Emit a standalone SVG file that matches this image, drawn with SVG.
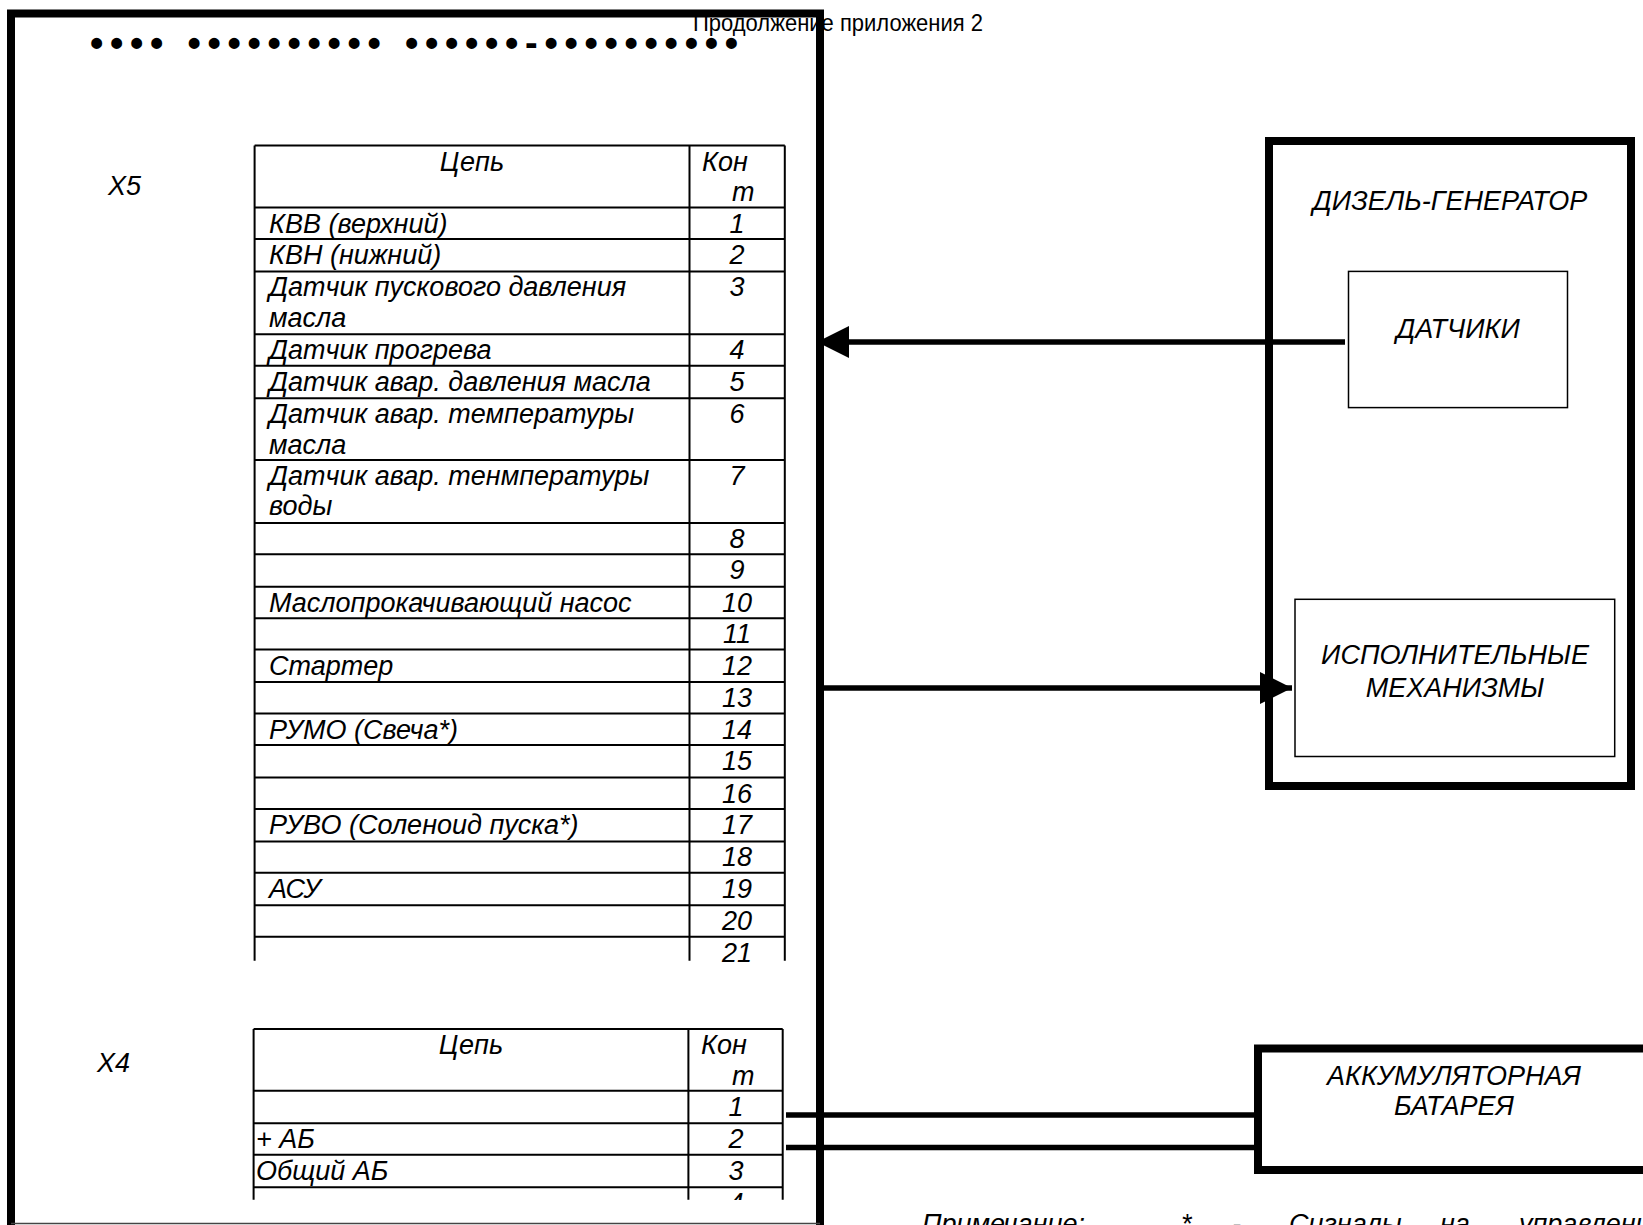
<svg xmlns="http://www.w3.org/2000/svg" width="1643" height="1225" viewBox="0 0 1643 1225">
<style>
.t{font-family:"Liberation Sans",Arial,sans-serif;font-style:italic;font-size:27px;fill:#000}
.c{text-anchor:middle}
.grid{stroke:#000;stroke-width:2;fill:none}
.thick{stroke:#000;stroke-width:8;fill:none}
.thin{stroke:#000;stroke-width:1.5;fill:#fff}
.wire{stroke:#000;stroke-width:5.5;fill:none}
</style>
<defs>
<marker id="ah" markerUnits="userSpaceOnUse" markerWidth="32" markerHeight="32" viewBox="0 0 30 30" refX="30" refY="15" orient="auto">
<path d="M0,0 L30,15 L0,30 Z" fill="#000"/>
</marker>
<clipPath id="x4clip"><rect x="0" y="0" width="1643" height="1200"/></clipPath>
</defs>
<rect width="1643" height="1225" fill="#fff"/>

<g id="header">
<text x="693" y="31" style="font-family:'Liberation Sans Narrow','Liberation Sans',Arial,sans-serif;font-size:24px" textLength="290" lengthAdjust="spacingAndGlyphs">Продолжение приложения 2</text>
</g>

<g id="control-block">
<path class="thick" d="M11,1225 V13.5 H820 V1225"/>
<line x1="11" y1="1223.5" x2="820" y2="1223.5" stroke="#444" stroke-width="1.5"/>
<text x="90" y="56" style="font-family:'Liberation Sans',Arial,sans-serif;font-weight:bold;font-size:38px" textLength="648" lengthAdjust="spacing">•••• •••••••••• ••••••-••••••••••</text>
</g>

<g id="table-x5">
<text class="t" x="108" y="195">X5</text>
<path class="grid" d="M254.6,145.6 V960.8 M689.5,145.6 V960.8 M784.8,145.6 V960.8
M254.6,145.6 H784.8 M254.6,207.5 H784.8 M254.6,238.9 H784.8 M254.6,271.4 H784.8 M254.6,334.3 H784.8
M254.6,365.7 H784.8 M254.6,398.2 H784.8 M254.6,460 H784.8 M254.6,522.9 H784.8 M254.6,554.3 H784.8
M254.6,586.8 H784.8 M254.6,618.2 H784.8 M254.6,649.6 H784.8 M254.6,682.1 H784.8 M254.6,713.5 H784.8
M254.6,745 H784.8 M254.6,777.5 H784.8 M254.6,808.9 H784.8 M254.6,841.4 H784.8 M254.6,872.8 H784.8
M254.6,905.3 H784.8 M254.6,936.7 H784.8"/>
<text class="t c" x="472" y="170.6">Цепь</text>
<text class="t" x="702" y="170.6">Кон</text>
<text class="t" x="732" y="201">т</text>
<text class="t" x="269" y="232.5">КВВ (верхний)</text>
<text class="t" x="269" y="263.9">КВН (нижний)</text>
<text class="t" x="269" y="296.4">Датчик пускового давления</text>
<text class="t" x="269" y="326.8">масла</text>
<text class="t" x="269" y="359.3">Датчик прогрева</text>
<text class="t" x="269" y="390.7">Датчик авар. давления масла</text>
<text class="t" x="269" y="423.2">Датчик авар. температуры</text>
<text class="t" x="269" y="453.6">масла</text>
<text class="t" x="269" y="485">Датчик авар. тенмпературы</text>
<text class="t" x="269" y="515.4">воды</text>
<text class="t" x="269" y="611.8">Маслопрокачивающий насос</text>
<text class="t" x="269" y="674.6">Стартер</text>
<text class="t" x="269" y="738.5">РУМО (Свеча*)</text>
<text class="t" x="269" y="833.9">РУВО (Соленоид пуска*)</text>
<text class="t" x="269" y="897.8">АСУ</text>
<g class="t c">
<text x="737" y="232.5">1</text>
<text x="737" y="263.9">2</text>
<text x="737" y="296.4">3</text>
<text x="737" y="359.3">4</text>
<text x="737" y="390.7">5</text>
<text x="737" y="423.2">6</text>
<text x="737" y="485">7</text>
<text x="737" y="547.9">8</text>
<text x="737" y="579.3">9</text>
<text x="737" y="611.8">10</text>
<text x="737" y="643.2">11</text>
<text x="737" y="674.6">12</text>
<text x="737" y="707.1">13</text>
<text x="737" y="738.5">14</text>
<text x="737" y="770">15</text>
<text x="737" y="802.5">16</text>
<text x="737" y="833.9">17</text>
<text x="737" y="866.4">18</text>
<text x="737" y="897.8">19</text>
<text x="737" y="930.3">20</text>
<text x="737" y="961.7">21</text>
</g>
</g>

<g id="table-x4">
<text class="t" x="97" y="1072">X4</text>
<path class="grid" d="M253.6,1029 V1199.7 M688.4,1029 V1199.7 M782.7,1029 V1199.7
M253.6,1029 H782.7 M253.6,1090.8 H782.7 M253.6,1123.2 H782.7 M253.6,1154.7 H782.7 M253.6,1187.2 H782.7"/>
<text class="t c" x="471" y="1054">Цепь</text>
<text class="t" x="701" y="1054">Кон</text>
<text class="t" x="732" y="1084.5">т</text>
<text class="t" x="256" y="1148">+ АБ</text>
<text class="t" x="256" y="1180">Общий АБ</text>
<g class="t c">
<text x="736" y="1116">1</text>
<text x="736" y="1148">2</text>
<text x="736" y="1180">3</text>
<text x="736" y="1212" clip-path="url(#x4clip)">4</text>
</g>
</g>

<g id="diesel-generator">
<rect class="thick" x="1269" y="141" width="362" height="645"/>
<text class="t c" x="1450" y="209.6">ДИЗЕЛЬ-ГЕНЕРАТОР</text>
</g>

<g id="sensors">
<rect class="thin" x="1348.5" y="271.4" width="219" height="136.2"/>
<text class="t c" x="1458" y="337.5">ДАТЧИКИ</text>
</g>

<g id="actuators">
<rect class="thin" x="1295" y="599.3" width="319.7" height="157.2"/>
<text class="t c" x="1455" y="664">ИСПОЛНИТЕЛЬНЫЕ</text>
<text class="t c" x="1455" y="697">МЕХАНИЗМЫ</text>
</g>

<g id="battery">
<rect class="thick" x="1258" y="1048.5" width="400" height="121.5"/>
<text class="t c" x="1454" y="1084.5">АККУМУЛЯТОРНАЯ</text>
<text class="t c" x="1454" y="1115">БАТАРЕЯ</text>
</g>

<g id="connectors">
<line class="wire" x1="1345" y1="342" x2="817" y2="342" marker-end="url(#ah)"/>
<line class="wire" x1="820" y1="688" x2="1292" y2="688" marker-end="url(#ah)"/>
<line class="wire" x1="786" y1="1115" x2="1256" y2="1115"/>
<line class="wire" x1="786" y1="1147.5" x2="1256" y2="1147.5"/>
</g>

<g id="note">
<text class="t" x="922" y="1233">Примечание:</text>
<text class="t" x="1181" y="1233">*</text>
<text class="t" x="1232" y="1233">-</text>
<text class="t" x="1289" y="1233">Сигналы</text>
<text class="t" x="1440" y="1233">на</text>
<text class="t" x="1519" y="1233">управлени</text>
</g>
</svg>
